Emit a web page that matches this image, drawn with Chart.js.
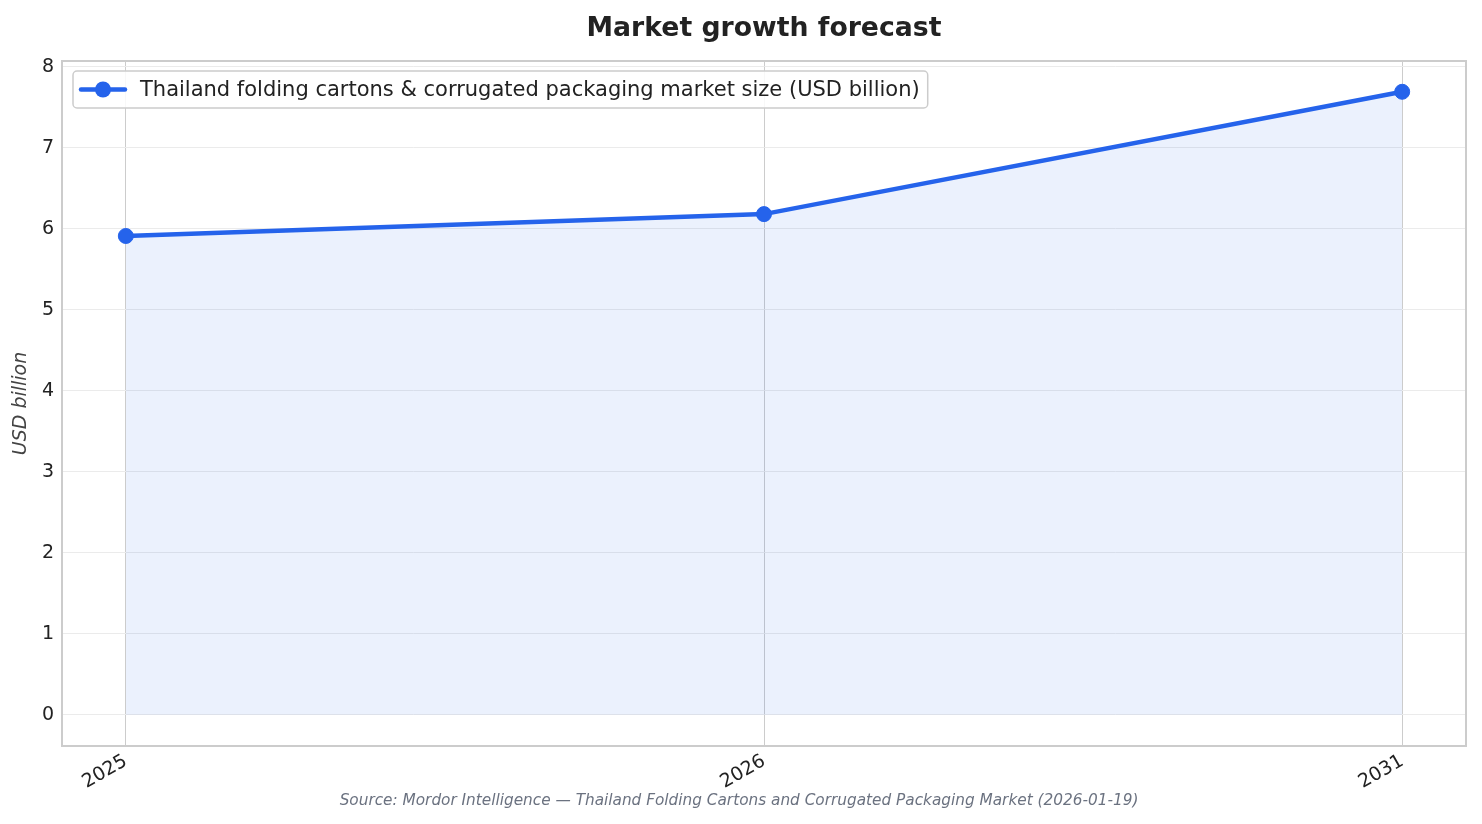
<!DOCTYPE html>
<html>
<head>
<meta charset="utf-8">
<title>Market growth forecast</title>
<script src="https://cdn.jsdelivr.net/npm/chart.js@4.4.1/dist/chart.umd.min.js"></script>
<style>
  html, body { margin: 0; padding: 0; background: #ffffff; }
  #wrap { width: 1482px; height: 824px; }
</style>
</head>
<body>
<div id="wrap"><canvas id="growthChart"></canvas></div>
<script>
// datos
var years = ['2025', '2026', '2031'];
var marketSize = [5.91, 6.18, 7.69];
var yTicks = [0, 1, 2, 3, 4, 5, 6, 7, 8];

var seriesLabel = 'Thailand folding cartons & corrugated packaging market size (USD billion)';
var chartTitle = 'Market growth forecast';
var sourceText = 'Source: Mordor Intelligence \u2014 Thailand Folding Cartons and Corrugated Packaging Market (2026-01-19)';

var FONT = '"DejaVu Sans", sans-serif';
var BLUE = '#2563eb';

var points = marketSize.map(function (v, i) {
    return { x: i, y: v };
});

// titulo, marco, leyenda dentro del area y fuente abajo
var decorations = {
    id: 'decorations',
    afterDraw: function (chart) {
        var ctx = chart.ctx;
        var area = chart.chartArea;
        ctx.save();

        // marco completo del area
        ctx.strokeStyle = '#cccccc';
        ctx.lineWidth = 2;
        ctx.strokeRect(area.left, area.top, area.right - area.left, area.bottom - area.top);

        ctx.fillStyle = '#222222';
        ctx.font = 'bold 26.7px ' + FONT;
        ctx.textAlign = 'center';
        ctx.textBaseline = 'alphabetic';
        ctx.fillText(chartTitle, (area.left + area.right) / 2, 36);

        // leyenda
        ctx.font = '21px ' + FONT;
        var textW = ctx.measureText(seriesLabel).width;
        var bx = area.left + 11, by = area.top + 10, bh = 37;
        var bw = 67 + textW + 8;
        ctx.beginPath();
        ctx.roundRect(bx, by, bw, bh, 4);
        ctx.fillStyle = 'rgba(255,255,255,0.85)';
        ctx.fill();
        ctx.strokeStyle = '#cccccc';
        ctx.lineWidth = 1.5;
        ctx.stroke();

        var cy = by + bh / 2;
        ctx.beginPath();
        ctx.moveTo(bx + 8, cy);
        ctx.lineTo(bx + 52, cy);
        ctx.strokeStyle = BLUE;
        ctx.lineWidth = 4.5;
        ctx.lineCap = 'round';
        ctx.stroke();
        ctx.beginPath();
        ctx.arc(bx + 30, cy, 8, 0, Math.PI * 2);
        ctx.fillStyle = BLUE;
        ctx.fill();

        ctx.fillStyle = '#222222';
        ctx.textAlign = 'left';
        ctx.textBaseline = 'middle';
        ctx.fillText(seriesLabel, bx + 67, cy + 1);

        // fuente
        ctx.font = 'italic 15.3px ' + FONT;
        ctx.fillStyle = '#6b7280';
        ctx.textAlign = 'center';
        ctx.fillText(sourceText, 739, 801);

        ctx.restore();
    }
};

var ctx = document.getElementById('growthChart').getContext('2d');
var chart = new Chart(ctx, {
    type: 'line',
    data: {
        datasets: [{
            label: seriesLabel,
            data: points,
            borderColor: BLUE,
            backgroundColor: 'rgba(37,99,235,0.09)',
            borderWidth: 4.5,
            fill: 'origin',
            tension: 0,
            pointRadius: 7.5,
            pointHoverRadius: 7.5,
            pointBackgroundColor: BLUE,
            pointBorderColor: BLUE,
            pointBorderWidth: 1
        }]
    },
    options: {
        responsive: true,
        maintainAspectRatio: false,
        animation: false,
        layout: {
            padding: { top: 61, right: 16, left: 0, bottom: 0 }
        },
        plugins: {
            legend: { display: false },
            title: { display: false },
            tooltip: { enabled: false }
        },
        scales: {
            x: {
                type: 'linear',
                min: -0.1,
                max: 2.1,
                afterBuildTicks: function (scale) {
                    scale.ticks = years.map(function (y, i) { return { value: i }; });
                },
                afterFit: function (scale) {
                    scale.height = 78;
                },
                ticks: {
                    callback: function (value) { return years[value]; },
                    font: { family: FONT, size: 19 },
                    color: '#222222',
                    minRotation: 30,
                    maxRotation: 30,
                    padding: 4
                },
                grid: {
                    color: '#cccccc',
                    lineWidth: 1,
                    drawTicks: false
                },
                border: { color: '#cccccc', width: 2 }
            },
            y: {
                min: -0.385,
                max: 8.07,
                afterBuildTicks: function (scale) {
                    scale.ticks = yTicks.map(function (v) { return { value: v }; });
                },
                afterFit: function (scale) {
                    scale.width = 62;
                },
                ticks: {
                    font: { family: FONT, size: 19 },
                    color: '#222222',
                    padding: 8
                },
                grid: {
                    color: '#ebebeb',
                    lineWidth: 1,
                    drawTicks: false
                },
                border: { color: '#cccccc', width: 2 },
                title: {
                    display: true,
                    text: 'USD billion',
                    font: { family: FONT, size: 19, style: 'italic' },
                    color: '#444444',
                    padding: { top: 10, bottom: 0 }
                }
            }
        }
    },
    plugins: [decorations]
});
</script>
</body>
</html>
